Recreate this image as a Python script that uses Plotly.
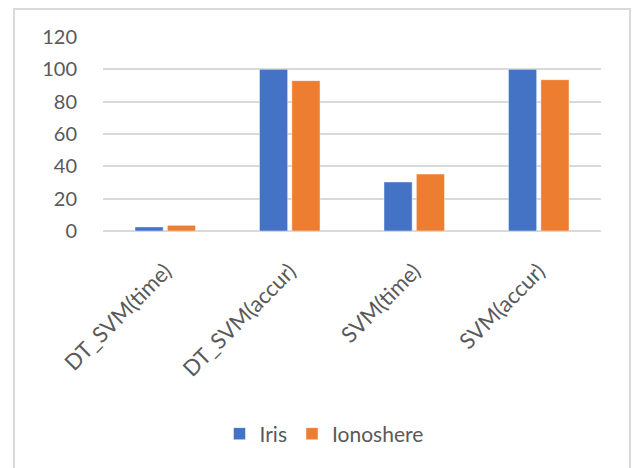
import plotly.graph_objects as go

categories = ["DT_SVM(time)", "DT_SVM(accur)", "SVM(time)", "SVM(accur)"]
iris = [2.5, 100, 30.3, 100]
ionoshere = [3.5, 93.0, 35.2, 93.6]
y_ticks = [0, 20, 40, 60, 80, 100, 120]

BLUE = "#4472C4"
ORANGE = "#ED7D31"
GRID = "#D9D9D9"
TEXT = "#595959"
FONT = "Lato"

W, H = 633, 468
L, R, T, B = 103, 32, 37, 237
pw, ph = W - L - R, H - T - B


def px_x(x):
    return (x - L) / pw


def px_y(y):
    return (H - B - y) / ph


fig = go.Figure()
fig.add_trace(go.Bar(name="Iris", x=categories, y=iris, marker_color=BLUE,
                     marker_line=dict(color="rgba(255,255,255,0.45)", width=1)))
fig.add_trace(go.Bar(name="Ionoshere", x=categories, y=ionoshere, marker_color=ORANGE,
                     marker_line=dict(color="rgba(255,255,255,0.45)", width=1)))

# outer chart frame
fig.add_shape(type="rect", xref="paper", yref="paper",
              x0=px_x(14), x1=px_x(630), y0=px_y(490), y1=px_y(9),
              line=dict(color=GRID, width=2), fillcolor="rgba(0,0,0,0)", layer="below")

fig.update_layout(
    width=W, height=H,
    margin=dict(l=L, r=R, t=T, b=B, pad=0),
    paper_bgcolor="white", plot_bgcolor="white",
    barmode="group", bargap=0.48, bargroupgap=0.13,
    font=dict(family=FONT, color=TEXT, size=20),
    showlegend=True,
    legend=dict(orientation="h", x=px_x(324), y=px_y(434), xanchor="center", yanchor="middle",
                font=dict(size=21, color=TEXT), itemwidth=30, tracegroupgap=0),
    xaxis=dict(tickangle=-45, showgrid=False, showline=False, ticks="",
               tickfont=dict(size=22, color=TEXT), ticklabelstandoff=22),
    yaxis=dict(range=[0, 120], tickvals=y_ticks, showgrid=True, gridcolor=GRID, gridwidth=1.5,
               zeroline=True, zerolinecolor=GRID, zerolinewidth=1.5, showline=False, ticks="",
               tickfont=dict(size=20, color=TEXT), ticklabelstandoff=25),
)

fig.write_html("out.html")
